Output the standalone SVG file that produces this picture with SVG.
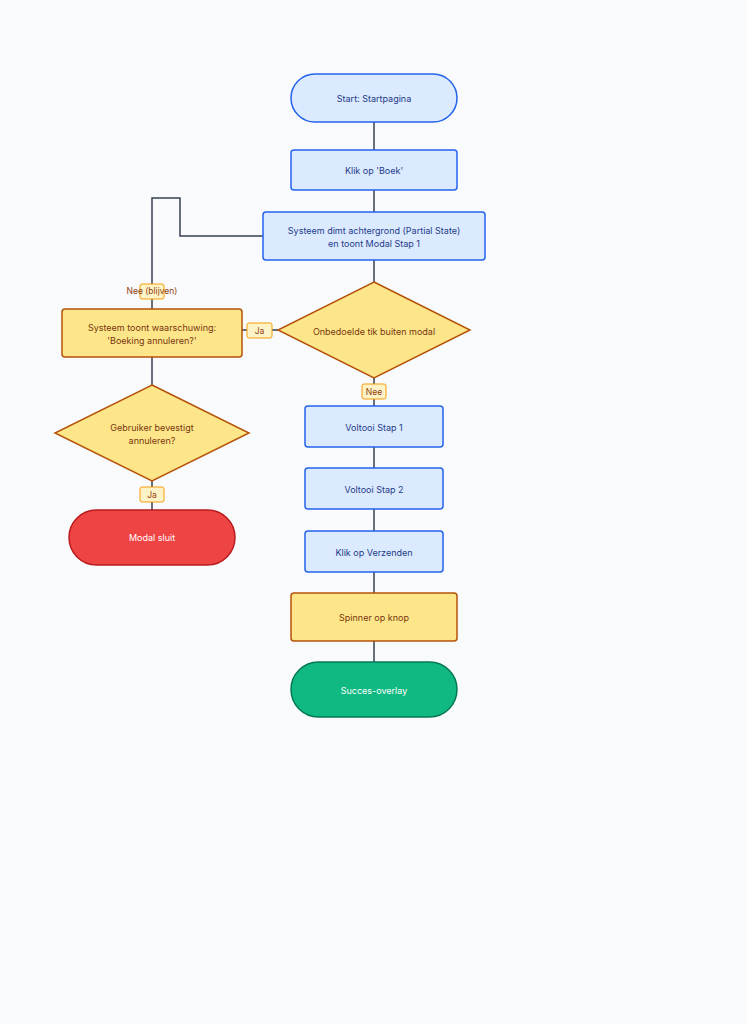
<svg xmlns="http://www.w3.org/2000/svg" width="747" height="1024" viewBox="0 0 747 1024">
<style>
text{font-family:Inter,"Liberation Sans",sans-serif;font-size:9px;text-anchor:middle;dominant-baseline:central}
.b{fill:#dbeafe;stroke:#2563eb;stroke-width:1.5}
.bt{fill:#1e3a8a}
.y{fill:#fde68a;stroke:#b45309;stroke-width:1.5}
.yt{fill:#78350f}
.e{stroke:#374151;stroke-width:1.5;fill:none}
.lb{fill:#fef3c7;stroke:#f59e0b;stroke-width:1}
.lt{fill:#92400e;font-size:8.5px}
</style>
<rect width="747" height="1024" fill="#f8fafc"/>
<g id="edges">
<path class="e" d="M374 122V150M374 190V212M374 260V282M374 378V406M374 447V468M374 509V531M374 572V593M374 641V662"/>
<path class="e" d="M278 330H242M152 357V385M152 481V510"/>
<path class="e" d="M263 236H180V198H152V309"/>
<rect class="lb" x="362" y="384" width="24" height="15" rx="2"/><text class="lt" x="374" y="391.5">Nee</text>
<rect class="lb" x="247" y="323" width="25" height="15" rx="2"/><text class="lt" x="259.5" y="330.5">Ja</text>
<rect class="lb" x="140" y="487" width="24" height="15" rx="2"/><text class="lt" x="152" y="494.5">Ja</text>
<rect class="lb" x="140" y="284" width="24" height="15" rx="2"/><text class="lt" x="152" y="291">Nee (blijven)</text>
</g>
<g id="start"><rect class="b" x="291" y="74" width="166" height="48" rx="24"/><text class="bt" x="374" y="98">Start: Startpagina</text></g>
<g id="boek"><rect class="b" x="291" y="150" width="166" height="40" rx="3"/><text class="bt" x="374" y="170">Klik op 'Boek'</text></g>
<g id="dimt"><rect class="b" x="263" y="212" width="222" height="48" rx="3"/><text class="bt" x="374" y="230">Systeem dimt achtergrond (Partial State)</text><text class="bt" x="374" y="243">en toont Modal Stap 1</text></g>
<g id="tik"><polygon class="y" points="374,282 470,330 374,378 278,330"/><text class="yt" x="374" y="331">Onbedoelde tik buiten modal</text></g>
<g id="stap1"><rect class="b" x="305" y="406" width="138" height="41" rx="3"/><text class="bt" x="374" y="427">Voltooi Stap 1</text></g>
<g id="stap2"><rect class="b" x="305" y="468" width="138" height="41" rx="3"/><text class="bt" x="374" y="489">Voltooi Stap 2</text></g>
<g id="verzenden"><rect class="b" x="305" y="531" width="138" height="41" rx="3"/><text class="bt" x="374" y="552">Klik op Verzenden</text></g>
<g id="spinner"><rect class="y" x="291" y="593" width="166" height="48" rx="3"/><text class="yt" x="374" y="617">Spinner op knop</text></g>
<g id="succes"><rect x="291" y="662" width="166" height="55" rx="27.5" fill="#10b981" stroke="#047857" stroke-width="1.5"/><text x="374" y="690" fill="#ffffff">Succes-overlay</text></g>
<g id="waarschuwing"><rect class="y" x="62" y="309" width="180" height="48" rx="3"/><text class="yt" x="152" y="327">Systeem toont waarschuwing:</text><text class="yt" x="152" y="340">'Boeking annuleren?'</text></g>
<g id="bevestigt"><polygon class="y" points="152,385 249,433 152,481 55,433"/><text class="yt" x="152" y="427">Gebruiker bevestigt</text><text class="yt" x="152" y="440">annuleren?</text></g>
<g id="sluit"><rect x="69" y="510" width="166" height="55" rx="27.5" fill="#ef4444" stroke="#b91c1c" stroke-width="1.5"/><text x="152" y="537" fill="#ffffff">Modal sluit</text></g>
</svg>
